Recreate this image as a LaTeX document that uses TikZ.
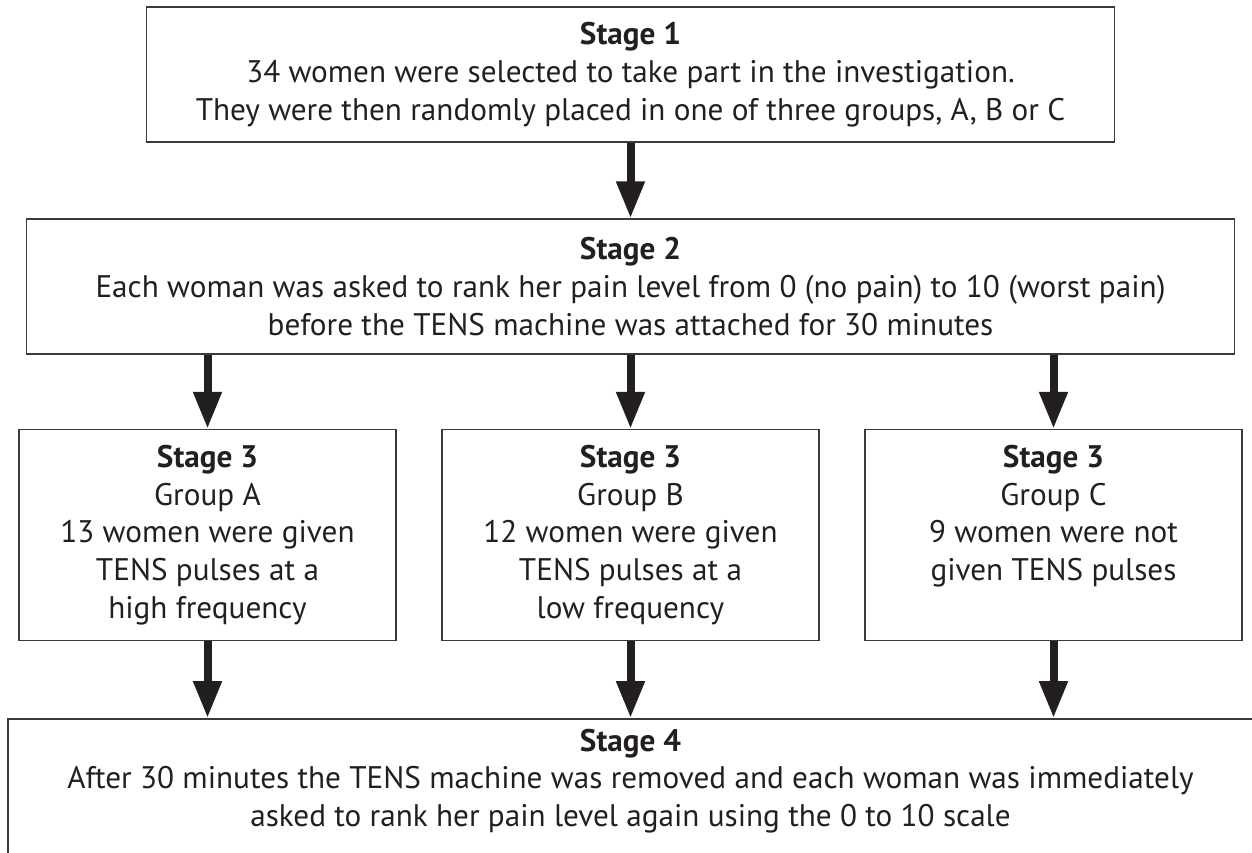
\documentclass[tikz,border=0pt]{standalone}
\usepackage{fontspec}
\setmainfont{PT Sans}
\usetikzlibrary{arrows.meta}
\definecolor{ink}{HTML}{231F20}
\definecolor{frame}{HTML}{3A3A3A}
\tikzset{
  stagebox/.style={draw=frame, line width=1.5pt, inner sep=0pt, align=center, text=ink,
    font=\fontsize{31.2}{37.8}\selectfont},
  stagetext/.style={inner sep=0pt, align=center, text=ink, font=\fontsize{31.2}{37.8}\selectfont},
  flow/.style={draw=ink, fill=ink, line width=8pt, -{Triangle[width=27pt,length=37pt]}}
}
\begin{document}
\begin{tikzpicture}[x=1pt,y=-1pt]
\useasboundingbox (0,0) rectangle (1252,852);
\clip (0,0) rectangle (1252,852);
\node[stagebox, minimum width=968pt, minimum height=135pt] (s1) at (630.5,74.5)
  {\textbf{Stage 1}\\34 women were selected to take part in the investigation.\\They were then randomly placed in one of three groups, A, B or C};
\node[stagebox, minimum width=1208pt, minimum height=135pt] (s2) at (630.5,286.5)
  {\textbf{Stage 2}\\Each woman was asked to rank her pain level from 0 (no pain) to 10 (worst pain)\\before the TENS machine was attached for 30 minutes};
\node[stagebox, minimum width=377pt, minimum height=211pt] (sA) at (207.5,535)
  {\textbf{Stage 3}\\Group A\\13 women were given\\TENS pulses at a\\high frequency};
\node[stagebox, minimum width=377pt, minimum height=211pt] (sB) at (630.5,535)
  {\textbf{Stage 3}\\Group B\\12 women were given\\TENS pulses at a\\low frequency};
\node[stagebox, minimum width=377pt, minimum height=211pt] (sC) at (1053.5,535)
  {\textbf{Stage 3}\\Group C\\9 women were not\\given TENS pulses\\\phantom{high frequency}};
\node[stagebox, minimum width=1247pt, minimum height=300pt, anchor=north west] (s4) at (7,718) {};
\node[stagetext] (s4t) at (630.5,781)
  {\textbf{Stage 4}\\After 30 minutes the TENS machine was removed and each woman was immediately\\asked to rank her pain level again using the 0 to 10 scale};
\draw[flow] (s1.south) -- (s2.north);
\draw[flow] (sA.north |- s2.south) -- (sA.north);
\draw[flow] (sB.north |- s2.south) -- (sB.north);
\draw[flow] (sC.north |- s2.south) -- (sC.north);
\draw[flow] (sA.south) -- (sA.south |- s4.north);
\draw[flow] (sB.south) -- (sB.south |- s4.north);
\draw[flow] (sC.south) -- (sC.south |- s4.north);
\end{tikzpicture}
\end{document}
